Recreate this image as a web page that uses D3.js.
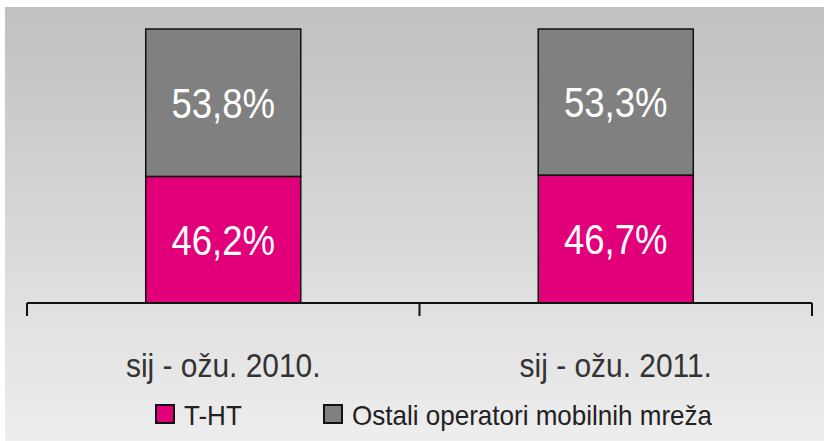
<!DOCTYPE html>
<html>
<head>
<meta charset="utf-8">
<script src="https://cdn.jsdelivr.net/npm/d3@7"></script>
<style>
  body { margin: 0; background: #fff; }
  svg text { font-family: "Liberation Sans", Arial, sans-serif; }
</style>
</head>
<body>
<svg id="chart" width="824" height="441"></svg>
<script>
// data
const periods = ['sij - ožu. 2010.', 'sij - ožu. 2011.'];
const seriesNames = ['T-HT', 'Ostali operatori mobilnih mreža'];
const tht = [46.2, 46.7];
const ostali = [53.8, 53.3];
const colors = ['#e2007a', '#808080'];

const W = 824, H = 441;
const svg = d3.select('#chart');

// background gradient
const grad = svg.append('defs').append('linearGradient')
  .attr('id', 'bg').attr('x1', 0).attr('y1', 0).attr('x2', 0).attr('y2', 1);
grad.append('stop').attr('offset', '0%').attr('stop-color', '#c0c0c0');
grad.append('stop').attr('offset', '100%').attr('stop-color', '#eeeeee');
svg.append('rect')
  .attr('x', 5).attr('y', 7).attr('width', W - 5).attr('height', H - 7)
  .attr('fill', 'url(#bg)');

const x = d3.scaleBand().domain(periods).range([27, 812]).padding(0);
const y = d3.scaleLinear().domain([0, 100]).range([303, 29]);
const barW = x.bandwidth() * 0.395;

const rows = periods.map((p, i) => ({ period: p, 'T-HT': tht[i], 'Ostali operatori mobilnih mreža': ostali[i] }));
const stacked = d3.stack().keys(seriesNames)(rows);

const fmt = v => d3.format('.1f')(v).replace('.', ',') + '%';

stacked.forEach((layer, li) => {
  const g = svg.append('g');
  g.selectAll('rect').data(layer).join('rect')
    .attr('x', d => x(d.data.period) + (x.bandwidth() - barW) / 2)
    .attr('y', d => y(d[1]))
    .attr('width', barW)
    .attr('height', d => y(d[0]) - y(d[1]))
    .attr('fill', colors[li])
    .attr('stroke', '#111')
    .attr('stroke-width', 1.5);
  // original font is condensed, so squeeze the text a bit
  g.selectAll('text').data(layer).join('text')
    .attr('transform', d => `translate(${x(d.data.period) + x.bandwidth() / 2},${(y(d[0]) + y(d[1])) / 2 + 15}) scale(0.87,1)`)
    .attr('text-anchor', 'middle')
    .attr('fill', '#fff')
    .attr('font-size', 42)
    .text(d => fmt(d[1] - d[0]));
});

// x axis with ticks between categories
const axisG = svg.append('g');
axisG.append('line')
  .attr('x1', x.range()[0]).attr('x2', x.range()[1])
  .attr('y1', y(0)).attr('y2', y(0))
  .attr('stroke', '#111').attr('stroke-width', 2);
const edges = periods.map(p => x(p)).concat([x.range()[1]]);
axisG.selectAll('.tick').data(edges).join('line')
  .attr('x1', d => d).attr('x2', d => d)
  .attr('y1', y(0)).attr('y2', y(0) + 13)
  .attr('stroke', '#111').attr('stroke-width', 2);
axisG.selectAll('text').data(periods).join('text')
  .attr('transform', d => `translate(${x(d) + x.bandwidth() / 2},377) scale(0.88,1)`)
  .attr('text-anchor', 'middle')
  .attr('fill', '#333')
  .attr('font-size', 34)
  .text(d => d);

// legend
const legendX = [155, 323];
const leg = svg.append('g').selectAll('g').data(seriesNames).join('g')
  .attr('transform', (d, i) => `translate(${legendX[i]},404)`);
leg.append('rect')
  .attr('x', 1).attr('y', 1).attr('width', 18).attr('height', 18)
  .attr('fill', (d, i) => colors[i])
  .attr('stroke', '#111').attr('stroke-width', 2);
leg.append('text')
  .attr('transform', `translate(29,21) scale(0.93,1)`)
  .attr('fill', '#222')
  .attr('font-size', 28)
  .text(d => d);
</script>
</body>
</html>
